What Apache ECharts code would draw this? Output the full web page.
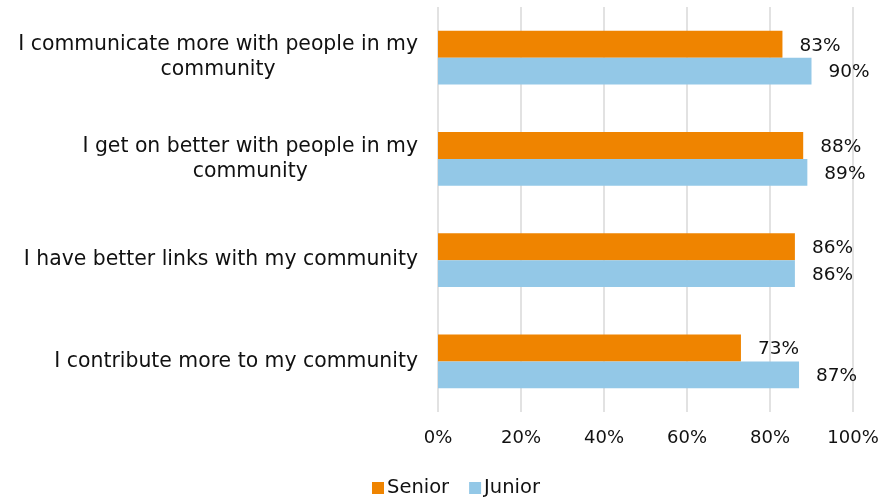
<!DOCTYPE html>
<html>
<head>
<meta charset="utf-8">
<script src="https://cdn.jsdelivr.net/npm/echarts@6/dist/echarts.min.js"></script>
<style>
  html, body { margin: 0; padding: 0; background: #fff; }
  #chart { width: 884px; height: 497px; }
</style>
</head>
<body>
<div id="chart"></div>
<script>
// Survey statements (top to bottom) and the share agreeing, per group
const categories = [
  'I communicate more with people in my\ncommunity',
  'I get on better with people in my\ncommunity',
  'I have better links with my community',
  'I contribute more to my community'
];
const seniorValues = [83, 88, 86, 73];
const juniorValues = [90, 89, 86, 87];
const xTicks = [0, 20, 40, 60, 80, 100];

const FONT = '"DejaVu Sans", Verdana, sans-serif';
const TEXT_COLOR = '#111';

const chart = echarts.init(document.getElementById('chart'), null, { renderer: 'canvas' });

const valueLabel = {
  show: true,
  position: 'right',
  distance: 17,
  offset: [0, 1.5],
  formatter: p => p.value + '%',
  fontFamily: FONT,
  fontSize: 18.5,
  color: TEXT_COLOR
};

chart.setOption({
  animation: false,
  backgroundColor: '#fff',
  grid: { left: 438, right: 31, top: 7, bottom: 85, containLabel: false },
  legend: {
    data: ['Senior', 'Junior'],
    left: 367,
    bottom: -6,
    icon: 'rect',
    itemWidth: 12,
    itemHeight: 12,
    itemGap: 20,
    textStyle: { fontFamily: FONT, fontSize: 19.5, color: TEXT_COLOR, padding: [0, 0, 0, -2] }
  },
  xAxis: {
    type: 'value',
    min: xTicks[0],
    max: xTicks[xTicks.length - 1],
    interval: xTicks[1] - xTicks[0],
    axisLine: { show: false },
    axisTick: { show: false },
    axisLabel: {
      formatter: '{value}%',
      fontFamily: FONT,
      fontSize: 18,
      color: TEXT_COLOR,
      margin: 17
    },
    splitLine: { show: true, lineStyle: { color: '#D9D9D9', width: 1.5 } }
  },
  yAxis: {
    type: 'category',
    data: categories,
    inverse: true,
    axisLine: { show: false },
    axisTick: { show: false },
    splitLine: { show: false },
    axisLabel: {
      margin: 20,
      align: 'right',
      formatter: v => v.split('\n').map(line => '{c|' + line + '}').join('\n'),
      rich: {
        c: {
          align: 'center',
          fontFamily: FONT,
          fontSize: 20.4,
          lineHeight: 25,
          color: TEXT_COLOR
        }
      }
    }
  },
  series: [
    {
      name: 'Senior',
      type: 'bar',
      data: seniorValues,
      barGap: '0%',
      barCategoryGap: '47%',
      itemStyle: { color: '#EF8400' },
      label: valueLabel
    },
    {
      name: 'Junior',
      type: 'bar',
      data: juniorValues,
      barGap: '0%',
      barCategoryGap: '47%',
      itemStyle: { color: '#93C8E7' },
      label: valueLabel
    }
  ]
});
</script>
</body>
</html>
